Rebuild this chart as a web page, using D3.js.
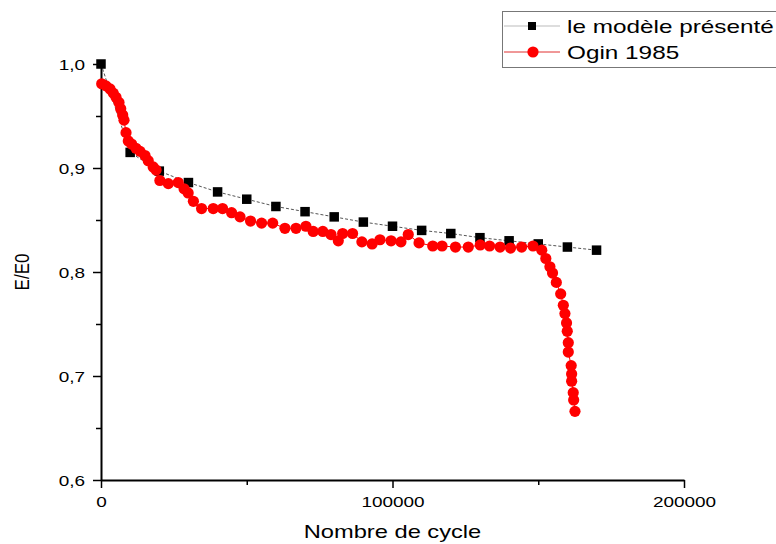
<!DOCTYPE html>
<html>
<head>
<meta charset="utf-8">
<script src="https://cdn.jsdelivr.net/npm/d3@7"></script>
<style>
  html, body { margin: 0; padding: 0; background: #fff; }
  svg { display: block; }
  text { font-family: "Liberation Sans", Arial, sans-serif; fill: #000; }
</style>
</head>
<body>
<svg id="chart" width="776" height="544"></svg>
<script>
// ---- data ----
const modelX = [0, 10000, 20000, 30000, 40000, 50000, 60000, 70000, 80000, 90000,
                100000, 110000, 120000, 130000, 140000, 150000, 160000, 170000];
const modelY = [1.000, 0.915, 0.897, 0.886, 0.877, 0.870, 0.863, 0.858, 0.853, 0.848,
                0.844, 0.840, 0.837, 0.833, 0.830, 0.827, 0.824, 0.821];

const oginX = [240, 1700, 3100, 4200, 5150, 6170, 6760, 7440, 7890, 8580,
               9360, 10500, 12000, 13400, 15100, 16200, 17900, 18900, 20200, 23100,
               26500, 28500, 29900, 31700, 34500, 38500, 41700, 44800, 47700, 51300,
               55100, 58900, 63100, 66900, 70300, 72800, 76100, 78900, 81400, 82900,
               86300, 89500, 93000, 95700, 99500, 102900, 105400, 109100, 113800, 117000,
               121600, 126000, 130100, 133300, 136900, 140500, 144300, 148200, 151200, 152600,
               154000, 154900, 156200, 157700, 158600, 159150, 159700, 159950, 160300, 160300,
               161300, 161450, 161450, 162000, 162150, 162600];
const oginY = [0.981, 0.979, 0.976, 0.972, 0.968, 0.963, 0.957, 0.951, 0.946, 0.934,
               0.926, 0.923, 0.919, 0.916, 0.912, 0.907, 0.901, 0.898, 0.888, 0.885,
               0.886, 0.880, 0.876, 0.868, 0.861, 0.861, 0.861, 0.857, 0.853, 0.849,
               0.847, 0.847, 0.842, 0.842, 0.844, 0.839, 0.839, 0.836, 0.830, 0.837,
               0.837, 0.829, 0.827, 0.831, 0.830, 0.829, 0.836, 0.828, 0.825, 0.825,
               0.824, 0.824, 0.826, 0.825, 0.824, 0.823, 0.824, 0.825, 0.821, 0.813,
               0.805, 0.799, 0.790, 0.779, 0.768, 0.760, 0.751, 0.743, 0.732, 0.723,
               0.710, 0.702, 0.695, 0.684, 0.677, 0.666];

const xTicks = [0, 100000, 200000];
const xMinor = [50000, 150000];
const yTicks = [0.6, 0.7, 0.8, 0.9, 1.0];
const yMinor = [0.65, 0.75, 0.85, 0.95];
const seriesNames = ["le modèle présenté", "Ogin 1985"];
const xTitle = "Nombre de cycle";
const yTitle = "E/E0";

// ---- layout ----
const SX = 1.28; // horizontal text stretch of the reference
const svg = d3.select("#chart");
const x = d3.scaleLinear().domain([0, 200000]).range([101, 684]);
const y = d3.scaleLinear().domain([0.6, 1.0]).range([480, 64]);
const fmtY = v => d3.format(".1f")(v).replace(".", ",");

// minor ticks
svg.append("g").attr("transform", `translate(0,${y(0.6)})`)
  .call(d3.axisBottom(x).tickValues(xMinor).tickSize(5).tickFormat(""))
  .call(g => g.select(".domain").remove())
  .call(g => g.selectAll("line").attr("stroke", "#000").attr("stroke-width", 1.5));
svg.append("g").attr("transform", `translate(${x(0)},0)`)
  .call(d3.axisLeft(y).tickValues(yMinor).tickSize(5).tickFormat(""))
  .call(g => g.select(".domain").remove())
  .call(g => g.selectAll("line").attr("stroke", "#000").attr("stroke-width", 1.5));

// major axes
const xAxis = svg.append("g").attr("transform", `translate(0,${y(0.6)})`)
  .call(d3.axisBottom(x).tickValues(xTicks).tickSize(8).tickSizeOuter(0).tickFormat(d3.format("d")));
xAxis.select(".domain").attr("stroke", "#000").attr("stroke-width", 2);
xAxis.selectAll(".tick line").attr("stroke", "#000").attr("stroke-width", 1.5);
xAxis.selectAll(".tick text")
  .attr("font-size", 14.8).attr("font-family", "Liberation Sans, Arial, sans-serif")
  .attr("y", 16).attr("dy", "0.71em").attr("fill", "#000")
  .attr("transform", `scale(${SX},1)`);

const yAxis = svg.append("g").attr("transform", `translate(${x(0)},0)`)
  .call(d3.axisLeft(y).tickValues(yTicks).tickSize(8).tickSizeOuter(0).tickFormat(fmtY));
yAxis.select(".domain").attr("stroke", "#000").attr("stroke-width", 2);
yAxis.selectAll(".tick line").attr("stroke", "#000").attr("stroke-width", 1.5);
yAxis.selectAll(".tick text")
  .attr("font-size", 14.8).attr("font-family", "Liberation Sans, Arial, sans-serif")
  .attr("x", -16 / SX).attr("dy", "0.35em").attr("fill", "#000")
  .attr("transform", `scale(${SX},1)`);

// axis titles
svg.append("text")
  .attr("transform", `translate(${(x(0) + x(200000)) / 2},538) scale(${SX},1)`)
  .attr("text-anchor", "middle").attr("font-size", 18.5).text(xTitle);
svg.append("text")
  .attr("transform", `translate(29,${(y(0.6) + y(1.0)) / 2}) rotate(-90) scale(1,1.2)`)
  .attr("text-anchor", "middle").attr("font-size", 17).text(yTitle);

// ---- series ----
const model = modelX.map((d, i) => [d, modelY[i]]);
const ogin = oginX.map((d, i) => [d, oginY[i]]);
const line = d3.line().x(d => x(d[0])).y(d => y(d[1]));

svg.append("path").datum(model).attr("d", line)
  .attr("fill", "none").attr("stroke", "#555").attr("stroke-width", 1)
  .attr("stroke-dasharray", "3,2");
const sq = 9.5;
svg.append("g").selectAll("rect").data(model).join("rect")
  .attr("x", d => x(d[0]) - sq / 2).attr("y", d => y(d[1]) - sq / 2)
  .attr("width", sq).attr("height", sq).attr("fill", "#000");

svg.append("path").datum(ogin).attr("d", line)
  .attr("fill", "none").attr("stroke", "#ff0000").attr("stroke-width", 1);
svg.append("g").selectAll("circle").data(ogin).join("circle")
  .attr("cx", d => x(d[0])).attr("cy", d => y(d[1])).attr("r", 5.6)
  .attr("fill", "#ff0000");

// ---- legend ----
const lg = svg.append("g");
lg.append("rect").attr("x", 502.5).attr("y", 11.5).attr("width", 300).attr("height", 56)
  .attr("fill", "#fff").attr("stroke", "#777").attr("stroke-width", 1);
lg.append("line").attr("x1", 504).attr("x2", 560).attr("y1", 26).attr("y2", 26)
  .attr("stroke", "#bbb").attr("stroke-width", 1);
lg.append("rect").attr("x", 532 - 4).attr("y", 26 - 4).attr("width", 8).attr("height", 8).attr("fill", "#000");
lg.append("line").attr("x1", 504).attr("x2", 560).attr("y1", 52).attr("y2", 52)
  .attr("stroke", "#e03030").attr("stroke-width", 1);
lg.append("circle").attr("cx", 533).attr("cy", 52).attr("r", 5.6).attr("fill", "#ff0000");
lg.append("text").attr("transform", `translate(567,33) scale(${SX},1)`)
  .attr("font-size", 19).text(seriesNames[0]);
lg.append("text").attr("transform", `translate(567,59) scale(${SX},1)`)
  .attr("font-size", 19).text(seriesNames[1]);
</script>
</body>
</html>
